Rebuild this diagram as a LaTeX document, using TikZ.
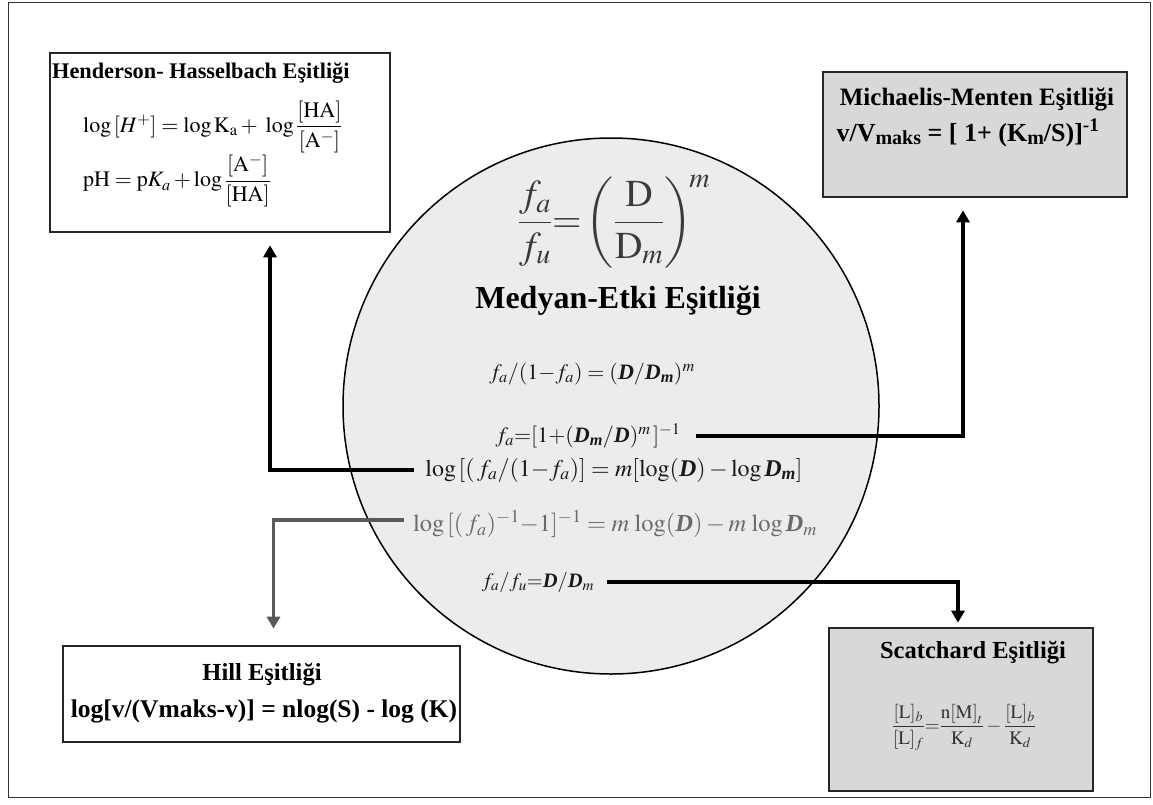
\documentclass[tikz,border=0pt]{standalone}
\usepackage{amsmath}
\usepackage{mathptmx}
\usepackage[no-math]{fontspec}
\setmainfont{Liberation Serif}
\usetikzlibrary{arrows.meta}
\definecolor{circfill}{HTML}{ECECEC}
\definecolor{boxgray}{HTML}{D8D8D8}
\definecolor{txtgray}{HTML}{6A6A6A}
\definecolor{lngray}{HTML}{5A5A5A}
\definecolor{bigtxt}{HTML}{3A3A3A}
\newcommand{\BD}{\textbf{\textit{D}}}
\newcommand{\Bm}{\textbf{\textit{m}}}
\begin{document}
\begin{tikzpicture}[x=1pt,y=-1pt,
  box/.style={draw=black!85, line width=2.6pt, inner sep=0pt},
  conn/.style={line width=3.2pt, -{Triangle[width=13pt,length=12pt]}},
  ttl/.style={font=\fontsize{25}{28}\selectfont\bfseries, inner sep=0pt},
  eq/.style={font=\fontsize{22}{26}\selectfont, inner sep=1pt, text=black!90},
  heq/.style={font=\fontsize{22}{25}\selectfont, inner sep=0pt, anchor=west}
]
\useasboundingbox (0,0) rectangle (1153,805);
\draw[line width=1pt, black!80] (8,3) rectangle (1150,797);

% boxes
\node[box, fill=white, minimum width=340pt, minimum height=179pt] (hh) at (220,142.5) {};
\node[box, fill=boxgray, minimum width=304pt, minimum height=125pt] (mm) at (975,134.5) {};
\node[box, fill=white, minimum width=397pt, minimum height=96pt] (hill) at (261.5,694) {};
\node[box, fill=boxgray, minimum width=264pt, minimum height=163pt] (sc) at (961,709.5) {};
\node[draw=black, line width=1.5pt, fill=circfill, circle, minimum size=536pt, inner sep=0pt] (med) at (611,406) {};

% Henderson
\node[ttl, font=\fontsize{22.3}{25}\selectfont\bfseries, anchor=west] (hhT) at (52,73) {Henderson- Hasselbach Eşitliği};
\node[heq] (hh1) at (83,127) {$\log\,[H^{+}] = \log \mathrm{K}_{\mathrm{a}} + \;\log\dfrac{[\mathrm{HA}]}{[\mathrm{A}^{-}]}$};
\node[heq] (hh2) at (83,181) {$\mathrm{pH} = \mathrm{p}K_{a} + \log\dfrac{[\mathrm{A}^{-}]}{[\mathrm{HA}]}$};

% Michaelis
\node[ttl] (mmT) at (977,99) {Michaelis-Menten Eşitliği};
\node[ttl, font=\fontsize{26}{28}\selectfont\bfseries] (mm1) at (968,133) {v/V\raisebox{-0.3ex}{\fontsize{20}{22}\selectfont maks} = [ 1+ (K\raisebox{-0.3ex}{\fontsize{20}{22}\selectfont m}/S)]\textsuperscript{-1}};

% Median effect
\node[inner sep=0pt, text=bigtxt, font=\fontsize{38}{44}\selectfont] (medF) at (614,222) {$\dfrac{f_a}{f_u}{=}\left(\dfrac{\mathrm{D}}{\mathrm{D}_m}\right)^{\!m}$};
\node[ttl, font=\fontsize{32}{36}\selectfont\bfseries] (medT) at (618,301) {Medyan-Etki Eşitliği};
\node[eq] (f1) at (592,374) {$f_a/(1{-}f_a) = (\BD/\BD_{\Bm})^{m}$};
\node[eq] (f2) at (588,436) {$f_a{=}[1{+}(\BD_{\Bm}/\BD)^{m}\,]^{-1}$};
\node[eq, font=\fontsize{24}{28}\selectfont] (f3) at (614,470) {$\log\,[(\,f_a/(1{-}f_a)] = m[\log(\BD) - \log\BD_{\Bm}]$};
\node[eq, text=txtgray, font=\fontsize{24.5}{28}\selectfont] (f4) at (615,524) {$\log\,[(\,f_a)^{-1}{-}1]^{-1} = m\,\log(\BD) - m\,\log\BD_{m}$};
\node[eq, font=\fontsize{20.5}{24}\selectfont] (f5) at (538,582) {$f_a/f_u{=}\BD/\BD_{m}$};

% Hill
\node[ttl, font=\fontsize{24.5}{28}\selectfont\bfseries] (hillT) at (262,675) {Hill Eşitliği};
\node[ttl, font=\fontsize{25.5}{28}\selectfont\bfseries] (hill1) at (264,711) {log[v/(Vmaks-v)] = nlog(S) - log (K)};

% Scatchard
\node[ttl, font=\fontsize{24.5}{28}\selectfont\bfseries] (scT) at (973,653) {Scatchard Eşitliği};
\node[inner sep=0pt, text=black!80, font=\fontsize{19}{22}\selectfont] (sc1) at (964,727) {$\dfrac{[\mathrm{L}]_b}{[\mathrm{L}]_f}{=}\dfrac{\mathrm{n[M]}_t}{\mathrm{K}_d} - \dfrac{[\mathrm{L}]_b}{\mathrm{K}_d}$};

% connectors
\draw[conn, shorten >=12pt] ([xshift=14pt]f2.east) -| ([xshift=-12pt]mm.south);
\draw[conn, shorten >=12pt] ([xshift=-10pt]f3.west) -| ([xshift=50pt]hh.south);
\draw[conn, color=lngray, shorten >=16pt] ([xshift=-8pt,yshift=4pt]f4.west) -| ([xshift=12pt]hill.north);
\draw[conn, shorten >=4pt] ([xshift=12pt]f5.east) -| ([xshift=-3pt]sc.north);
\end{tikzpicture}
\end{document}
